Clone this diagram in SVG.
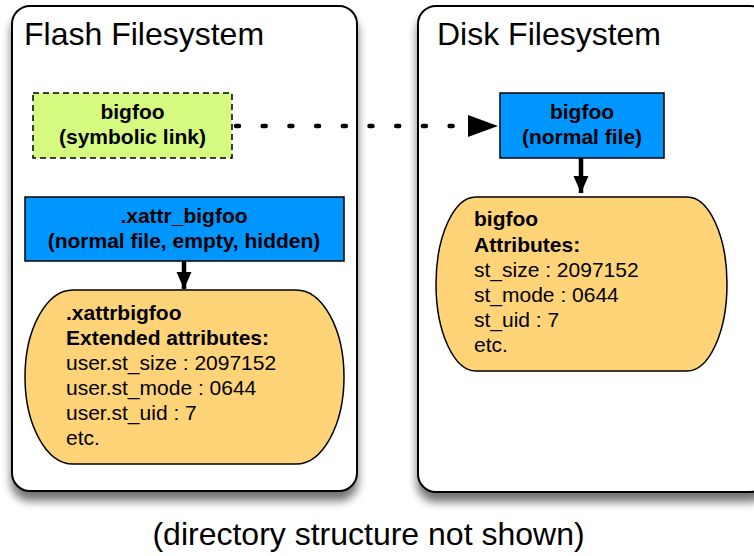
<svg xmlns="http://www.w3.org/2000/svg" width="754" height="556" viewBox="0 0 754 556">
<defs>
<filter id="shadow" x="-10%" y="-10%" width="120%" height="125%">
<feGaussianBlur in="SourceAlpha" stdDeviation="5"/>
<feOffset dx="0" dy="9" result="b"/>
<feComponentTransfer><feFuncA type="linear" slope="0.55"/></feComponentTransfer>
<feMerge><feMergeNode/><feMergeNode in="SourceGraphic"/></feMerge>
</filter>
<marker id="down" markerUnits="userSpaceOnUse" markerWidth="18" markerHeight="16" refX="17" refY="7.5" orient="auto">
<path d="M0,0 L17,7.5 L0,15 Z" fill="#000"/>
</marker>
</defs>
<style>
.container{fill:#fff;stroke:#000;stroke-width:2}
.title{font-family:"Liberation Sans",Arial,sans-serif;font-size:32px;fill:#000}
.bold{font-family:"Liberation Sans",Arial,sans-serif;font-size:21px;font-weight:bold;fill:#000}
.reg{font-family:"Liberation Sans",Arial,sans-serif;font-size:21px;fill:#000}
.blue{fill:#0096ff;stroke:#000;stroke-width:1.5}
.green{fill:#d6fa80;stroke:#000;stroke-width:1.5;stroke-dasharray:6 4}
.orange{fill:#ffd479;stroke:#000;stroke-width:1.5}
.conn{fill:none;stroke:#000;stroke-width:4.5}
</style>
<g id="flash-fs">
<rect class="container" x="12" y="6" width="345" height="485" rx="18" ry="18" filter="url(#shadow)"/>
<text class="title" x="24" y="45">Flash Filesystem</text>
</g>
<g id="disk-fs">
<rect class="container" x="418" y="6" width="350" height="486" rx="18" ry="18" filter="url(#shadow)"/>
<text class="title" x="437" y="45">Disk Filesystem</text>
</g>
<g id="symlink">
<rect class="green" x="33" y="93" width="199" height="65"/>
<text class="bold" x="132.5" y="119" text-anchor="middle">bigfoo</text>
<text class="bold" x="132.5" y="144" text-anchor="middle">(symbolic link)</text>
</g>
<g id="xattr-file">
<rect class="blue" x="25" y="197" width="319" height="64"/>
<text class="bold" x="184" y="223" text-anchor="middle">.xattr_bigfoo</text>
<text class="bold" x="184" y="248" text-anchor="middle">(normal file, empty, hidden)</text>
</g>
<g id="xattr-attrs">
<rect class="orange" x="25" y="290" width="319" height="174" rx="48" ry="87"/>
<text class="bold" x="66" y="320">.xattrbigfoo</text>
<text class="bold" x="66" y="345">Extended attributes:</text>
<text class="reg" x="66" y="370">user.st_size : 2097152</text>
<text class="reg" x="66" y="395">user.st_mode : 0644</text>
<text class="reg" x="66" y="420">user.st_uid : 7</text>
<text class="reg" x="66" y="445">etc.</text>
</g>
<g id="normal-file">
<rect class="blue" x="500" y="93" width="164" height="65"/>
<text class="bold" x="582" y="119" text-anchor="middle">bigfoo</text>
<text class="bold" x="582" y="144" text-anchor="middle">(normal file)</text>
</g>
<g id="disk-attrs">
<rect class="orange" x="436" y="197" width="291" height="174" rx="40" ry="87"/>
<text class="bold" x="474" y="226">bigfoo</text>
<text class="bold" x="474" y="252">Attributes:</text>
<text class="reg" x="474" y="277">st_size : 2097152</text>
<text class="reg" x="474" y="302">st_mode : 0644</text>
<text class="reg" x="474" y="327">st_uid : 7</text>
<text class="reg" x="474" y="352">etc.</text>
</g>
<g id="connectors">
<line class="conn" x1="236" y1="126" x2="462" y2="126" stroke-width="5" stroke-dasharray="3 23.7" stroke-linecap="round"/>
<path d="M468,115 L498,126 L468,137 Z" fill="#000"/>
<line class="conn" x1="581" y1="158" x2="581" y2="193" marker-end="url(#down)"/>
<line class="conn" x1="184" y1="261" x2="184" y2="289" marker-end="url(#down)"/>
</g>
<text class="title" x="368.5" y="545" text-anchor="middle">(directory structure not shown)</text>
</svg>
